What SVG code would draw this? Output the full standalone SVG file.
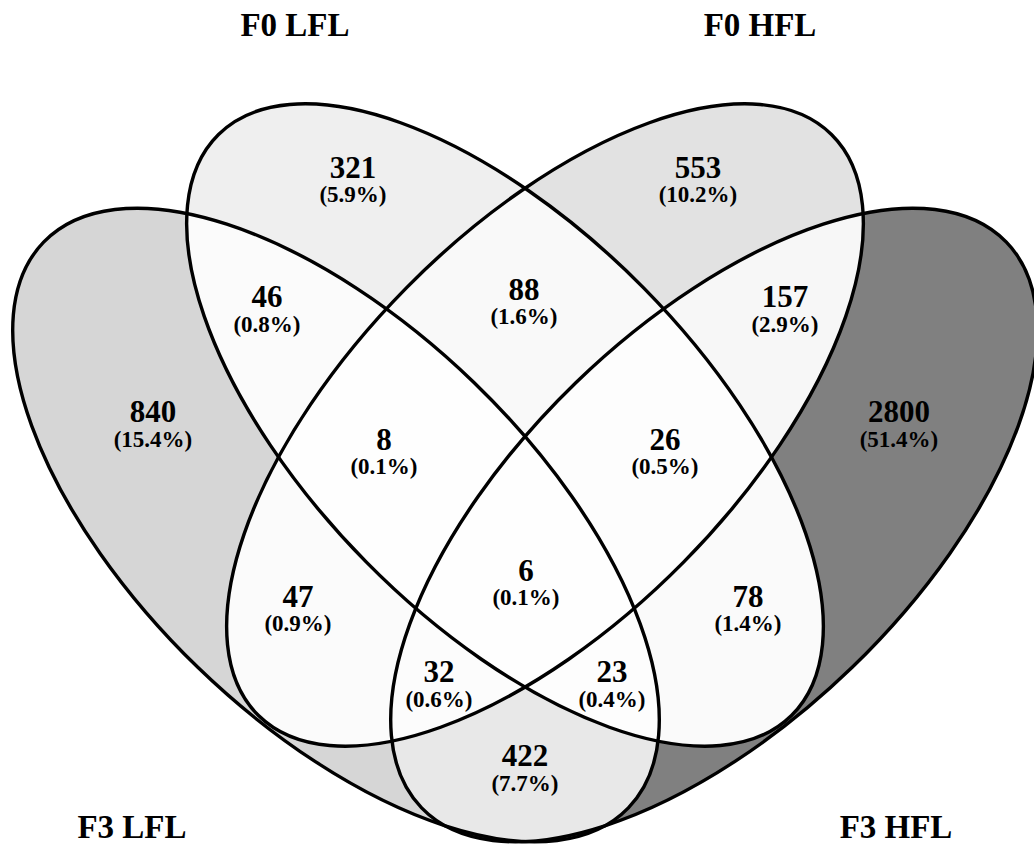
<svg xmlns="http://www.w3.org/2000/svg" xmlns:xlink="http://www.w3.org/1999/xlink" width="1034" height="847" viewBox="0 0 1034 847">
<style>
.o{fill:none;stroke:#000;stroke-width:3.4}
text{font-family:"Liberation Serif","Times New Roman",serif;font-weight:bold;fill:#000;text-anchor:middle}
.n{font-size:31px}
.p{font-size:23px}
.cat{font-size:33px}
</style>
<defs>
<ellipse id="e1" cx="336" cy="525" rx="406.8" ry="198.4" transform="rotate(44.05 336 525)"/>
<ellipse id="e2" cx="505" cy="425" rx="408" ry="195" transform="rotate(45.4 505 425)"/>
<ellipse id="e3" cx="545" cy="425" rx="408" ry="195" transform="rotate(-45.4 545 425)"/>
<ellipse id="e4" cx="714" cy="525" rx="406.8" ry="198.4" transform="rotate(-44.05 714 525)"/>
<clipPath id="c1"><use xlink:href="#e1"/></clipPath>
<clipPath id="c2"><use xlink:href="#e2"/></clipPath>
<clipPath id="c3"><use xlink:href="#e3"/></clipPath>
<clipPath id="c4"><use xlink:href="#e4"/></clipPath>
</defs>
<rect width="1034" height="847" fill="#fff"/>
<g id="region-fills">
<use xlink:href="#e1" fill="#d6d6d6"/>
<use xlink:href="#e2" fill="#efefef"/>
<use xlink:href="#e3" fill="#e2e2e2"/>
<use xlink:href="#e4" fill="#808080"/>
<use xlink:href="#e2" fill="#fbfbfb" clip-path="url(#c1)"/>
<use xlink:href="#e3" fill="#fbfbfb" clip-path="url(#c1)"/>
<use xlink:href="#e4" fill="#e8e8e8" clip-path="url(#c1)"/>
<use xlink:href="#e3" fill="#f9f9f9" clip-path="url(#c2)"/>
<use xlink:href="#e4" fill="#fafafa" clip-path="url(#c2)"/>
<use xlink:href="#e4" fill="#f7f7f7" clip-path="url(#c3)"/>
<g clip-path="url(#c1)"><use xlink:href="#e3" fill="#fefefe" clip-path="url(#c2)"/></g>
<g clip-path="url(#c1)"><use xlink:href="#e4" fill="#fdfdfd" clip-path="url(#c2)"/></g>
<g clip-path="url(#c1)"><use xlink:href="#e4" fill="#fcfcfc" clip-path="url(#c3)"/></g>
<g clip-path="url(#c2)"><use xlink:href="#e4" fill="#fdfdfd" clip-path="url(#c3)"/></g>
<g clip-path="url(#c1)"><g clip-path="url(#c2)"><use xlink:href="#e4" fill="#fefefe" clip-path="url(#c3)"/></g></g>
</g>
<g id="set-F3-LFL"><use xlink:href="#e1" class="o"/><text class="cat" x="132" y="838">F3 LFL</text></g>
<g id="set-F0-LFL"><use xlink:href="#e2" class="o"/><text class="cat" x="295" y="36">F0 LFL</text></g>
<g id="set-F0-HFL"><use xlink:href="#e3" class="o"/><text class="cat" x="760" y="36">F0 HFL</text></g>
<g id="set-F3-HFL"><use xlink:href="#e4" class="o"/><text class="cat" x="896" y="838">F3 HFL</text></g>
<g id="r321"><text class="n" x="353" y="178">321</text><text class="p" x="353" y="202">(5.9%)</text></g>
<g id="r553"><text class="n" x="698" y="178">553</text><text class="p" x="698" y="202">(10.2%)</text></g>
<g id="r840"><text class="n" x="153" y="422">840</text><text class="p" x="153" y="447">(15.4%)</text></g>
<g id="r2800"><text class="n" x="899" y="422">2800</text><text class="p" x="899" y="447">(51.4%)</text></g>
<g id="r46"><text class="n" x="267" y="307">46</text><text class="p" x="267" y="332">(0.8%)</text></g>
<g id="r157"><text class="n" x="785" y="307">157</text><text class="p" x="785" y="332">(2.9%)</text></g>
<g id="r88"><text class="n" x="524" y="300">88</text><text class="p" x="524" y="324">(1.6%)</text></g>
<g id="r8"><text class="n" x="384" y="450">8</text><text class="p" x="384" y="474">(0.1%)</text></g>
<g id="r26"><text class="n" x="665" y="450">26</text><text class="p" x="665" y="474">(0.5%)</text></g>
<g id="r6"><text class="n" x="526" y="581">6</text><text class="p" x="526" y="605">(0.1%)</text></g>
<g id="r47"><text class="n" x="298" y="607">47</text><text class="p" x="298" y="631">(0.9%)</text></g>
<g id="r78"><text class="n" x="748" y="607">78</text><text class="p" x="748" y="631">(1.4%)</text></g>
<g id="r32"><text class="n" x="439" y="682">32</text><text class="p" x="439" y="707">(0.6%)</text></g>
<g id="r23"><text class="n" x="612" y="682">23</text><text class="p" x="612" y="707">(0.4%)</text></g>
<g id="r422"><text class="n" x="525" y="766">422</text><text class="p" x="525" y="791">(7.7%)</text></g>
</svg>
